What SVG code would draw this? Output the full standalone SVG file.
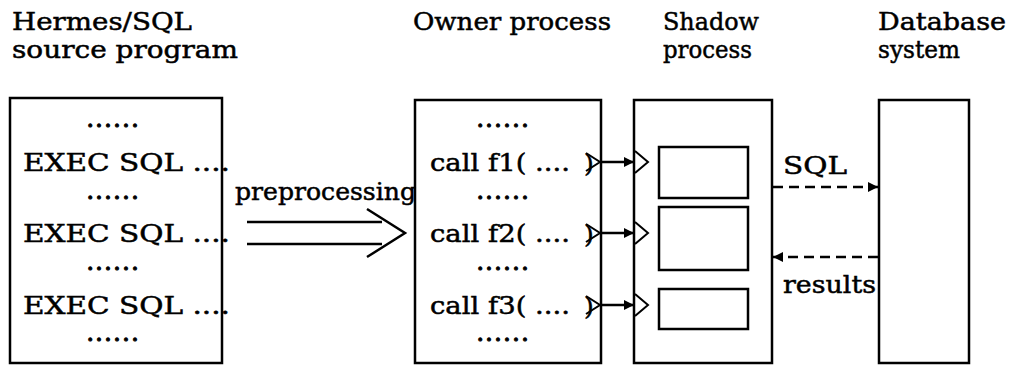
<svg xmlns="http://www.w3.org/2000/svg" width="1010" height="366" viewBox="0 0 1010 366">
  <style>
    .box { fill: none; stroke: #000; stroke-width: 2.5; }
    .ln { fill: none; stroke: #000; stroke-width: 2.5; }
    .dash { fill: none; stroke: #000; stroke-width: 2.5; stroke-dasharray: 10 6; }
    .port { fill: none; stroke: #000; stroke-width: 2; stroke-linejoin: miter; }
    text { font-family: "DejaVu Serif", "Liberation Serif", serif; fill: #000; stroke: #000; stroke-width: 0.5; }
    .hd { font-size: 25px; }
    .bd { font-size: 25px; }
    .dots { font-size: 25px; text-anchor: middle; letter-spacing: 1px; stroke-width: 1; }
  </style>
  <defs>
    <marker id="head" viewBox="0 0 10 10" refX="10" refY="5" markerWidth="14" markerHeight="10" markerUnits="userSpaceOnUse" orient="auto-start-reverse">
      <path d="M0,0 L10,5 L0,10 Z" fill="#000"/>
    </marker>
  </defs>

  <!-- column headings -->
  <g id="headings">
    <text class="hd" x="12" y="30" textLength="180" lengthAdjust="spacingAndGlyphs">Hermes/SQL</text>
    <text class="hd" x="12" y="58" textLength="226" lengthAdjust="spacingAndGlyphs">source program</text>
    <text class="hd" x="413" y="30" textLength="198" lengthAdjust="spacingAndGlyphs">Owner process</text>
    <text class="hd" x="663" y="30" textLength="96" lengthAdjust="spacingAndGlyphs">Shadow</text>
    <text class="hd" x="663" y="58" textLength="89" lengthAdjust="spacingAndGlyphs">process</text>
    <text class="hd" x="878" y="30" textLength="128" lengthAdjust="spacingAndGlyphs">Database</text>
    <text class="hd" x="878" y="58" textLength="82" lengthAdjust="spacingAndGlyphs">system</text>
  </g>

  <!-- source program -->
  <g id="source">
    <rect class="box" x="10" y="98" width="212" height="265"/>
    <text class="dots" x="113" y="127">......</text>
    <text class="bd" x="23" y="171" textLength="207" lengthAdjust="spacingAndGlyphs">EXEC SQL ....</text>
    <text class="dots" x="113" y="199">......</text>
    <text class="bd" x="23" y="242" textLength="207" lengthAdjust="spacingAndGlyphs">EXEC SQL ....</text>
    <text class="dots" x="113" y="270">......</text>
    <text class="bd" x="23" y="314" textLength="207" lengthAdjust="spacingAndGlyphs">EXEC SQL ....</text>
    <text class="dots" x="113" y="341">......</text>
  </g>

  <!-- owner process -->
  <g id="owner">
    <rect class="box" x="415" y="100" width="186" height="263"/>
    <text class="dots" x="503" y="127">......</text>
    <text class="bd" x="430" y="171" textLength="140" lengthAdjust="spacingAndGlyphs">call f1( ....</text>
    <text class="bd" x="584" y="172">)</text>
    <text class="dots" x="503" y="199">......</text>
    <text class="bd" x="430" y="242" textLength="140" lengthAdjust="spacingAndGlyphs">call f2( ....</text>
    <text class="bd" x="584" y="243">)</text>
    <text class="dots" x="503" y="270">......</text>
    <text class="bd" x="430" y="314" textLength="140" lengthAdjust="spacingAndGlyphs">call f3( ....</text>
    <text class="bd" x="584" y="315">)</text>
    <text class="dots" x="503" y="341">......</text>
    <polyline class="port" points="586,153 600,162 586,171"/>
    <polyline class="port" points="586,224 600,233 586,242"/>
    <polyline class="port" points="586,296 600,305 586,314"/>
  </g>

  <!-- shadow process -->
  <g id="shadow">
    <rect class="box" x="634" y="100" width="138" height="263"/>
    <rect class="box" x="659" y="147" width="89" height="51"/>
    <rect class="box" x="659" y="207" width="89" height="63"/>
    <rect class="box" x="659" y="289" width="89" height="40"/>
    <polyline class="port" points="635,151 648,162 635,173"/>
    <polyline class="port" points="635,222 648,233 635,244"/>
    <polyline class="port" points="635,294 648,305 635,316"/>
  </g>

  <!-- database system -->
  <g id="database">
    <rect class="box" x="879" y="100" width="90" height="263"/>
  </g>

  <!-- connectors -->
  <g id="connectors">
    <g id="preprocess">
      <line class="ln" x1="247" y1="222" x2="382" y2="222"/>
      <line class="ln" x1="247" y1="244" x2="382" y2="244"/>
      <polyline class="ln" points="367,209 405,233 367,257"/>
      <text class="bd" x="235" y="200" textLength="181" lengthAdjust="spacingAndGlyphs">preprocessing</text>
    </g>
    <line class="ln" x1="601" y1="162" x2="634" y2="162" marker-end="url(#head)"/>
    <line class="ln" x1="601" y1="233" x2="634" y2="233" marker-end="url(#head)"/>
    <line class="ln" x1="601" y1="305" x2="634" y2="305" marker-end="url(#head)"/>
    <line class="dash" x1="773" y1="187" x2="878" y2="187" marker-end="url(#head)"/>
    <text class="bd" x="783" y="174" textLength="64" lengthAdjust="spacingAndGlyphs">SQL</text>
    <line class="dash" x1="878" y1="257" x2="773" y2="257" marker-end="url(#head)"/>
    <text class="bd" x="783" y="293" textLength="93" lengthAdjust="spacingAndGlyphs">results</text>
  </g>
</svg>
